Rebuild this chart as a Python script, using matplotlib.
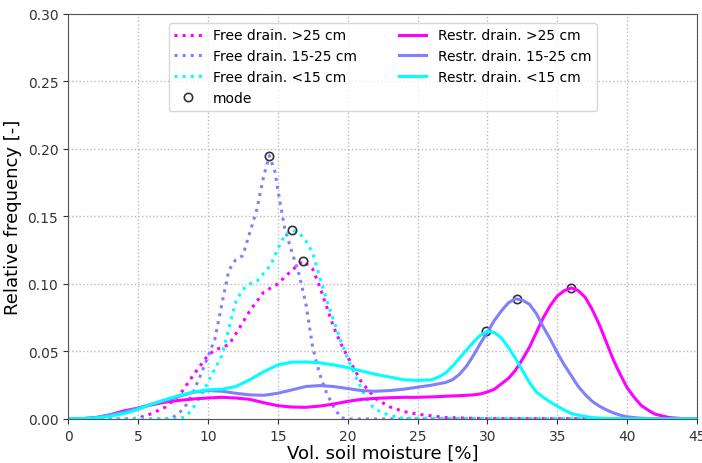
import numpy as np
import matplotlib
matplotlib.use("Agg")
import matplotlib.pyplot as plt

# colours for the three depth classes
COL_DEEP = '#ff00ff'
COL_MID = '#8080ff'
COL_SHALLOW = '#00ffff'

# free drainage curves (dotted)
free_deep_x = [0, 4, 5, 6, 7, 8, 9, 10, 10.5, 11, 11.5, 12, 13, 14, 15, 16, 16.8, 17.5, 18, 18.5,
               19, 19.5, 20, 21, 22, 23, 24, 25, 27, 30, 45]
free_deep_y = [0, 0, 0.0005, 0.004, 0.009, 0.018, 0.033, 0.047, 0.051, 0.053, 0.055, 0.063, 0.080,
               0.094, 0.100, 0.110, 0.117, 0.111, 0.098, 0.083, 0.068, 0.056, 0.046, 0.027, 0.015,
               0.009, 0.0055, 0.0035, 0.001, 0.0002, 0]

free_mid_x = [0, 7, 7.5, 8, 8.5, 9, 9.5, 10, 10.5, 11, 11.5, 12, 12.5, 13, 13.5, 14, 14.4, 14.8, 15,
              15.5, 16, 16.5, 17, 17.5, 18, 18.5, 19, 19.5, 20, 45]
free_mid_y = [0, 0, 0.001, 0.005, 0.011, 0.021, 0.033, 0.046, 0.059, 0.085, 0.110, 0.118, 0.121,
              0.138, 0.155, 0.180, 0.195, 0.183, 0.170, 0.141, 0.124, 0.108, 0.086, 0.053, 0.033,
              0.019, 0.009, 0.001, 0, 0]

free_shallow_x = [0, 8, 8.5, 9, 9.5, 10, 10.5, 11, 11.5, 12, 12.5, 13, 13.5, 14, 14.5, 15, 15.5, 16,
                  16.5, 17, 17.5, 18, 18.5, 19, 19.5, 20, 20.5, 21, 21.5, 22, 23, 24, 45]
free_shallow_y = [0, 0, 0.0025, 0.009, 0.017, 0.027, 0.037, 0.047, 0.067, 0.087, 0.096, 0.100, 0.102,
                  0.108, 0.114, 0.126, 0.136, 0.140, 0.138, 0.132, 0.123, 0.105, 0.088, 0.073,
                  0.058, 0.045, 0.033, 0.022, 0.012, 0.007, 0.0025, 0.0005, 0]

# restricted drainage curves (solid); finer sampling around the peaks
restr_x = ([float(v) for v in range(0, 27)] + [26.5 + 0.5 * i for i in range(32)]
           + [43.0, 44.0, 45.0])
restr_deep_y = [0, 0.0002, 0.001, 0.003, 0.006, 0.008, 0.0105, 0.0125, 0.0138, 0.0148, 0.0155,
                0.016, 0.0155, 0.0145, 0.012, 0.0098, 0.0088, 0.0086, 0.0095, 0.011, 0.013, 0.0145,
                0.0152, 0.0157, 0.016, 0.016, 0.0163,
                0.0165, 0.0168, 0.017, 0.0172, 0.0175, 0.0178, 0.0185, 0.020, 0.022, 0.026, 0.030,
                0.036, 0.044, 0.053, 0.064, 0.075, 0.084, 0.091, 0.095, 0.097, 0.095, 0.090, 0.081,
                0.070, 0.057, 0.044, 0.033, 0.023, 0.016, 0.010, 0.0065, 0.0035,
                0.001, 0.0002, 0]
restr_mid_y = [0, 0.0002, 0.001, 0.003, 0.005, 0.008, 0.011, 0.0135, 0.017, 0.0198, 0.021, 0.0205,
               0.019, 0.0178, 0.0175, 0.019, 0.0215, 0.024, 0.0247, 0.024, 0.0225, 0.021, 0.0205,
               0.021, 0.022, 0.0235, 0.025,
               0.026, 0.027, 0.029, 0.033, 0.039, 0.047, 0.056, 0.064, 0.073, 0.080, 0.086, 0.089,
               0.088, 0.085, 0.078, 0.068, 0.059, 0.049, 0.040, 0.032, 0.024, 0.018, 0.013, 0.0095,
               0.0068, 0.0045, 0.0028, 0.0015, 0.001, 0.0005, 0.0003, 0.0001,
               0, 0, 0]
restr_shallow_y = [0, 0.0002, 0.0008, 0.002, 0.004, 0.007, 0.011, 0.0145, 0.0175, 0.020, 0.0215,
                   0.022, 0.024, 0.029, 0.035, 0.040, 0.042, 0.0422, 0.0415, 0.040, 0.038, 0.0355,
                   0.033, 0.031, 0.029, 0.0285, 0.029,
                   0.031, 0.034, 0.039, 0.045, 0.051, 0.057, 0.062, 0.065, 0.064, 0.060, 0.053,
                   0.045, 0.036, 0.027, 0.020, 0.016, 0.0125, 0.0095, 0.0065, 0.004, 0.0028, 0.0018,
                   0.001, 0.0006, 0.0004, 0.0002, 0.0001, 0, 0, 0, 0, 0,
                   0, 0, 0]

# modes of each distribution
mode_x = [16.8, 14.4, 16.0, 36.0, 32.1, 29.9]
mode_y = [0.117, 0.195, 0.140, 0.097, 0.089, 0.065]

labels = ['Free drain. >25 cm', 'Free drain. 15-25 cm', 'Free drain. <15 cm',
          'Restr. drain. >25 cm', 'Restr. drain. 15-25 cm', 'Restr. drain. <15 cm']


def plot():
    fig = plt.figure(figsize=(7.02, 4.64), dpi=100)
    ax = fig.add_axes([0.097, 0.095, 0.896, 0.873])

    lw = 2.2
    ax.plot(free_deep_x, free_deep_y, ':', color=COL_DEEP, lw=lw, label=labels[0])
    ax.plot(free_mid_x, free_mid_y, ':', color=COL_MID, lw=lw, label=labels[1])
    ax.plot(free_shallow_x, free_shallow_y, ':', color=COL_SHALLOW, lw=lw, label=labels[2])
    ax.plot(mode_x, mode_y, 'o', mfc='none', mec='#333333', ms=6, mew=1.2, label='mode')
    ax.plot(restr_x, restr_deep_y, '-', color=COL_DEEP, lw=lw, label=labels[3])
    ax.plot(restr_x, restr_mid_y, '-', color=COL_MID, lw=lw, label=labels[4])
    ax.plot(restr_x, restr_shallow_y, '-', color=COL_SHALLOW, lw=lw, label=labels[5])

    ax.set_xlim(0, 45)
    ax.set_ylim(0, 0.30)
    ax.set_xticks(np.arange(0, 46, 5))
    ax.set_yticks(np.arange(0, 0.31, 0.05))
    ax.set_yticklabels(['%.2f' % v for v in np.arange(0, 0.31, 0.05)])
    ax.tick_params(labelsize=10, colors='#333333')
    for s in ax.spines.values():
        s.set_color('#555555')
    ax.grid(True, linestyle=':', color='#bbbbbb', lw=1)
    ax.set_xlabel('Vol. soil moisture [%]', fontsize=13, labelpad=1)
    ax.set_ylabel('Relative frequency [-]', fontsize=13)
    ax.legend(loc='upper center', ncol=2, fontsize=10, bbox_to_anchor=(0.5, 0.995),
              columnspacing=3.0)
    fig.savefig('out.png', dpi=100)


if __name__ == "__main__":
    plot()
